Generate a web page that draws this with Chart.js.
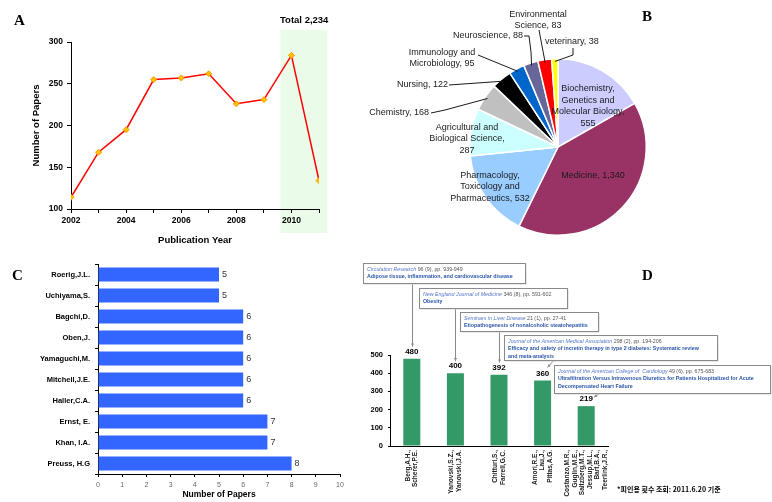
<!DOCTYPE html>
<html>
<head>
<meta charset="utf-8">
<script src="https://cdn.jsdelivr.net/npm/chart.js@4.4.0/dist/chart.umd.min.js"></script>
<style>
body { margin: 0; background: #fff; width: 772px; height: 502px; position: relative; overflow: hidden; font-family: "Liberation Sans", Arial, sans-serif; }
canvas { position: absolute; }
.letter { position: absolute; font-family: "Liberation Serif", "Times New Roman", serif; font-weight: bold; font-size: 15px; line-height: 15px; }
.note { position: absolute; white-space: nowrap; }
</style>
</head>
<body>
<canvas id="chartA" width="340" height="250" style="left:0;top:0"></canvas>
<canvas id="chartB" width="432" height="250" style="left:340px;top:0"></canvas>
<canvas id="chartC" width="360" height="252" style="left:0;top:250px"></canvas>
<canvas id="chartD" width="412" height="252" style="left:360px;top:250px"></canvas>

<div class="letter" style="left:14px;top:13px">A</div>
<div class="letter" style="left:642px;top:9px">B</div>
<div class="letter" style="left:12px;top:268px">C</div>
<div class="letter" style="left:642px;top:268px">D</div>
<div class="note" style="left:280px;top:14px;font-weight:bold;font-size:9.5px">Total 2,234</div>
<div class="note" style="left:617px;top:484px;font-weight:bold;font-size:7px;font-family:'Noto Sans CJK KR',sans-serif">*피인용 횟수 조회: 2011.6.20 기준</div>

<script>
// A: papers per year
const years = [2002, 2003, 2004, 2005, 2006, 2007, 2008, 2009, 2010, 2011];
const papersPerYear = [114, 168, 195, 255, 257, 262, 226, 231, 284, 134];
const labeledYears = [2002, 2004, 2006, 2008, 2010];
const highlightFrom = 2009.6, highlightTo = 2011.3;

// B: subject areas
const fieldNames = [
    ['Biochemistry,', 'Genetics and', 'Molecular Biology,'],
    ['Medicine'],
    ['Pharmacology,', 'Toxicology and', 'Pharmaceutics'],
    ['Agricultural and', 'Biological Science,'],
    ['Chemistry'],
    ['Nursing'],
    ['Immunology and', 'Microbiology'],
    ['Neuroscience'],
    ['Environmental', 'Science'],
    ['veterinary']
];
const fieldCounts = [555, 1340, 532, 287, 168, 122, 95, 88, 83, 38];
const fieldColors = ['#ccccff', '#993366', '#99ccff', '#ccffff', '#c0c0c0', '#000000', '#0066cc', '#666699', '#ff0000', '#ffff00'];

// C: top authors
const authors = ['Roerig,J.L.', 'Uchiyama,S.', 'Bagchi,D.', 'Oben,J.', 'Yamaguchi,M.', 'Mitchell,J.E.', 'Haller,C.A.', 'Ernst, E.', 'Khan, I.A.', 'Preuss, H.G'];
const authorPapers = [5, 5, 6, 6, 6, 6, 6, 7, 7, 8];

// D: most cited papers
const citedAuthors = [
    ['Berg,A.H.,', 'Scherer,P.E.'],
    ['Yanovski,S.Z.,', 'Yanovski,J.A.'],
    ['Chitturi,S.,', 'Farrell,G.C.'],
    ['Amori,R.E.,', 'Lau,J.,', 'Pittas,A.G.'],
    ['Costanzo,M.R.,', 'Guglin,M.E.,', 'Saltzberg,M.T.,', 'Jessup,M.L.,', 'Bart,B.A.,', 'Teerlink,J.R.,']
];
const citationCounts = [480, 400, 392, 360, 219];
const journals = ['Circulation Research', 'New England Journal of Medicine', 'Seminars in Liver Disease', 'Journal of the American Medical Association', 'Journal of the American College of  Cardiology'];
const citations = [' 96 (9), pp. 939-949', ' 346 (8), pp. 591-602', ' 21 (1), pp. 27-41', ' 298 (2), pp. 194-206', ' 49 (6), pp. 675-683'];
const paperTitles = [
    ['Adipose tissue, inflammation, and cardiovascular disease'],
    ['Obesity'],
    ['Etiopathogenesis of nonalcoholic steatohepatitis'],
    ['Efficacy and safety of incretin therapy in type 2 diabetes: Systematic review', 'and meta-analysis'],
    ['Ultrafiltration Versus Intravenous Diuretics for Patients Hospitalized for Acute', 'Decompensated Heart Failure']
];

Chart.defaults.animation = false;
Chart.defaults.font.family = '"Liberation Sans", Arial, sans-serif';
Chart.defaults.color = '#000';
Chart.defaults.plugins.legend.display = false;
Chart.defaults.plugins.tooltip.enabled = false;

const FONT = '"Liberation Sans", Arial, sans-serif';

// ---------- A ----------
const bandPlugin = {
    id: 'band',
    beforeDraw(chart) {
        const { ctx, chartArea } = chart;
        const x = chart.scales.x;
        const x0 = x.getPixelForValue(highlightFrom), x1 = x.getPixelForValue(highlightTo);
        ctx.save();
        ctx.fillStyle = '#eafbea';
        ctx.fillRect(x0, chartArea.top - 12, x1 - x0, chartArea.bottom - chartArea.top + 36);
        ctx.restore();
    }
};

new Chart(document.getElementById('chartA'), {
    type: 'line',
    data: {
        datasets: [{
            data: years.map((y, i) => ({ x: y, y: papersPerYear[i] })),
            borderColor: '#ff0000',
            borderWidth: 1.5,
            pointStyle: 'rectRot',
            pointRadius: 3,
            pointBackgroundColor: '#ffc000',
            pointBorderColor: '#ff9900',
            pointBorderWidth: 1,
            tension: 0
        }]
    },
    options: {
        responsive: false,
        layout: { padding: { top: 42, right: 21, left: 31, bottom: 4 } },
        scales: {
            x: {
                type: 'linear', min: 2002, max: 2011,
                afterFit: s => { s.height = 37; },
                ticks: {
                    stepSize: 1, autoSkip: false, maxRotation: 0, padding: 3,
                    font: { size: 8.5, weight: 'bold' },
                    callback: v => labeledYears.includes(v) ? String(v) : ''
                },
                grid: { drawOnChartArea: false, tickLength: 4, color: '#000' },
                border: { color: '#000' },
                title: { display: true, text: 'Publication Year', font: { size: 9.5, weight: 'bold' }, padding: 0 }
            },
            y: {
                min: 100, max: 300,
                afterFit: s => { s.width = 40; },
                ticks: { stepSize: 50, padding: 4, font: { size: 8.5, weight: 'bold' } },
                grid: { drawOnChartArea: false, tickLength: 4, color: '#000' },
                border: { color: '#000' },
                title: { display: true, text: 'Number of Papers', font: { size: 9.5, weight: 'bold' }, padding: 0 }
            }
        }
    },
    plugins: [bandPlugin]
});

// ---------- B ----------
// text anchor offsets from pie centre; leader = extra points before the slice
const fieldLabelLayout = [
    { dx: 30, dy: -41, align: 'center' },
    { dx: 35, dy: 29, align: 'center' },
    { dx: -68, dy: 40, align: 'center' },
    { dx: -91, dy: -8, align: 'center' },
    { dx: -129, dy: -34, align: 'right', leader: [[-127, -34], [-113, -37]] },
    { dx: -110, dy: -62, align: 'right', leader: [[-109, -62]] },
    { dx: -116, dy: -89, align: 'center', leader: [[-80, -92]] },
    { dx: -35, dy: -111, align: 'right', leader: [[-34, -111], [-29, -111], [-27, -95]] },
    { dx: -20, dy: -127, align: 'center', leader: [[-19, -117]] },
    { dx: -13, dy: -105, align: 'left', leader: [[15, -99], [15, -92]] }
];

function fieldLabelLines(i) {
    const lines = fieldNames[i].slice();
    const n = fieldCounts[i].toLocaleString('en-US');
    const last = lines[lines.length - 1];
    if (last.endsWith(',')) lines.push(n);
    else lines[lines.length - 1] = last + ', ' + n;
    return lines;
}

const pieLabelPlugin = {
    id: 'pieLabels',
    afterDatasetsDraw(chart) {
        const ctx = chart.ctx;
        const arcs = chart.getDatasetMeta(0).data;
        ctx.save();
        ctx.font = '9px ' + FONT;
        ctx.fillStyle = '#1a1a1a';
        ctx.strokeStyle = '#1a1a1a';
        ctx.lineWidth = 1;
        ctx.textBaseline = 'middle';
        arcs.forEach((arc, i) => {
            const lay = fieldLabelLayout[i];
            const lines = fieldLabelLines(i);
            const cx = arc.x, cy = arc.y;
            const tx = cx + lay.dx, ty = cy + lay.dy;
            ctx.textAlign = lay.align;
            lines.forEach((t, k) => ctx.fillText(t, tx, ty + (k - (lines.length - 1) / 2) * 11.5));
            if (lay.leader) {
                const mid = (arc.startAngle + arc.endAngle) / 2;
                const ex = cx + Math.cos(mid) * arc.outerRadius * 0.97;
                const ey = cy + Math.sin(mid) * arc.outerRadius * 0.97;
                ctx.beginPath();
                lay.leader.forEach(([px, py], k) => {
                    if (k === 0) ctx.moveTo(cx + px, cy + py);
                    else ctx.lineTo(cx + px, cy + py);
                });
                ctx.lineTo(ex, ey);
                ctx.stroke();
            }
        });
        ctx.restore();
    }
};

new Chart(document.getElementById('chartB'), {
    type: 'pie',
    data: {
        labels: fieldNames.map(n => n.join(' ')),
        datasets: [{
            data: fieldCounts,
            backgroundColor: fieldColors,
            borderColor: '#fff',
            borderWidth: 1.5
        }]
    },
    options: {
        responsive: false,
        layout: { padding: { left: 129, top: 58, right: 125, bottom: 14 } }
    },
    plugins: [pieLabelPlugin]
});

// ---------- C ----------
const barValuePlugin = {
    id: 'barValues',
    afterDatasetsDraw(chart) {
        const ctx = chart.ctx;
        const bars = chart.getDatasetMeta(0).data;
        ctx.save();
        ctx.font = '9px ' + FONT;
        ctx.fillStyle = '#333';
        ctx.textAlign = 'left';
        ctx.textBaseline = 'middle';
        bars.forEach((b, i) => ctx.fillText(String(authorPapers[i]), b.x + 3, b.y));
        ctx.restore();
    }
};

new Chart(document.getElementById('chartC'), {
    type: 'bar',
    data: {
        labels: authors,
        datasets: [{
            data: authorPapers,
            backgroundColor: '#3366ff',
            barPercentage: 0.66,
            categoryPercentage: 1
        }]
    },
    options: {
        responsive: false,
        indexAxis: 'y',
        layout: { padding: { top: 14, right: 20, left: 0, bottom: 2 } },
        scales: {
            x: {
                min: 0, max: 10,
                afterFit: s => { s.height = 26; },
                ticks: { stepSize: 1, padding: 4, color: '#666', font: { size: 7 } },
                grid: { drawOnChartArea: false, tickLength: 3, color: '#000' },
                border: { color: '#000' },
                title: { display: true, text: 'Number of Papers', font: { size: 8.5, weight: 'bold' }, padding: 0 }
            },
            y: {
                afterFit: s => { s.width = 98; },
                ticks: { autoSkip: false, padding: 5, font: { size: 7.5, weight: 'bold' } },
                grid: { drawOnChartArea: false, tickLength: 3, color: '#000' },
                border: { color: '#000' }
            }
        }
    },
    plugins: [barValuePlugin]
});

// ---------- D ----------
const annotBoxes = [
    { x: 3, y: 13, w: 162, h: 20 },
    { x: 59, y: 38, w: 148, h: 20 },
    { x: 100, y: 62, w: 138, h: 19 },
    { x: 144, y: 85, w: 213, h: 25 },
    { x: 194, y: 115, w: 216, h: 28 }
];
// arrow start (box side) and end offset from bar top
const annotArrows = [
    { sx: null, sy: 33, ex: 0, ey: -12 },
    { sx: null, sy: 58, ex: 0, ey: -12 },
    { sx: null, sy: 81, ex: 0, ey: -12 },
    { sx: 194, sy: 110, ex: 5, ey: -13 },
    { sx: 240, sy: 143, ex: 8, ey: -9 }
];

function arrow(ctx, x0, y0, x1, y1) {
    const a = Math.atan2(y1 - y0, x1 - x0), h = 3.5;
    ctx.beginPath();
    ctx.moveTo(x0, y0);
    ctx.lineTo(x1, y1);
    ctx.stroke();
    ctx.beginPath();
    ctx.moveTo(x1, y1);
    ctx.lineTo(x1 - h * Math.cos(a - 0.45), y1 - h * Math.sin(a - 0.45));
    ctx.lineTo(x1 - h * Math.cos(a + 0.45), y1 - h * Math.sin(a + 0.45));
    ctx.closePath();
    ctx.fill();
}

const citedPlugin = {
    id: 'cited',
    afterDraw(chart) {
        const ctx = chart.ctx;
        const bars = chart.getDatasetMeta(0).data;
        const xScale = chart.scales.x;
        ctx.save();
        // rotated author labels, centred on each category
        ctx.font = 'bold 6.5px ' + FONT;
        ctx.fillStyle = '#222';
        ctx.textAlign = 'right';
        ctx.textBaseline = 'middle';
        citedAuthors.forEach((lines, i) => {
            const px = xScale.getPixelForTick(i);
            lines.forEach((t, k) => {
                ctx.save();
                ctx.translate(px + (k - (lines.length - 1) / 2) * 7.5, xScale.top + 4);
                ctx.rotate(-Math.PI / 2);
                ctx.fillText(t, 0, 0);
                ctx.restore();
            });
        });
        // value labels
        ctx.font = 'bold 8px ' + FONT;
        ctx.fillStyle = '#000';
        ctx.textAlign = 'center';
        ctx.textBaseline = 'bottom';
        bars.forEach((b, i) => ctx.fillText(String(citationCounts[i]), b.x, b.y - 3));
        // arrows
        ctx.strokeStyle = '#8a8a8a';
        ctx.fillStyle = '#8a8a8a';
        ctx.lineWidth = 1;
        bars.forEach((b, i) => {
            const a = annotArrows[i];
            const sx = a.sx === null ? Math.round(b.x) + 0.5 : a.sx;
            arrow(ctx, sx, a.sy, (a.sx === null ? sx : b.x + a.ex), b.y + a.ey);
        });
        // boxes
        ctx.textAlign = 'left';
        ctx.textBaseline = 'middle';
        annotBoxes.forEach((bx, i) => {
            ctx.fillStyle = '#d4d4d4';
            ctx.fillRect(bx.x + 1.5, bx.y + 1.5, bx.w, bx.h);
            ctx.fillStyle = '#fff';
            ctx.fillRect(bx.x, bx.y, bx.w, bx.h);
            ctx.strokeStyle = '#8a8a8a';
            ctx.strokeRect(bx.x + 0.5, bx.y + 0.5, bx.w, bx.h);
            const tx = bx.x + 4, ty = bx.y + 6.5;
            ctx.font = 'italic 5.3px ' + FONT;
            ctx.fillStyle = '#5577cc';
            ctx.fillText(journals[i], tx, ty);
            const w = ctx.measureText(journals[i]).width;
            ctx.font = '5.3px ' + FONT;
            ctx.fillStyle = '#555';
            ctx.fillText(citations[i], tx + w, ty);
            ctx.font = 'bold 5.3px ' + FONT;
            ctx.fillStyle = '#2a56a8';
            paperTitles[i].forEach((t, k) => ctx.fillText(t, tx, ty + 7.5 + k * 7.5));
        });
        ctx.restore();
    }
};

new Chart(document.getElementById('chartD'), {
    type: 'bar',
    data: {
        labels: citedAuthors.map(l => l.join(' ')),
        datasets: [{
            data: citationCounts,
            backgroundColor: '#339966',
            barPercentage: 0.39,
            categoryPercentage: 1
        }]
    },
    options: {
        responsive: false,
        layout: { padding: { top: 105, right: 164, left: 0, bottom: 0 } },
        scales: {
            x: {
                afterFit: s => { s.height = 56; },
                ticks: { display: false },
                grid: { display: false },
                border: { color: '#000' }
            },
            y: {
                min: 0, max: 500,
                afterFit: s => { s.width = 30; },
                ticks: { stepSize: 100, padding: 5, font: { size: 7.5, weight: 'bold' } },
                grid: { drawOnChartArea: false, tickLength: 2, color: '#000' },
                border: { color: '#000' }
            }
        }
    },
    plugins: [citedPlugin]
});
</script>
</body>
</html>
